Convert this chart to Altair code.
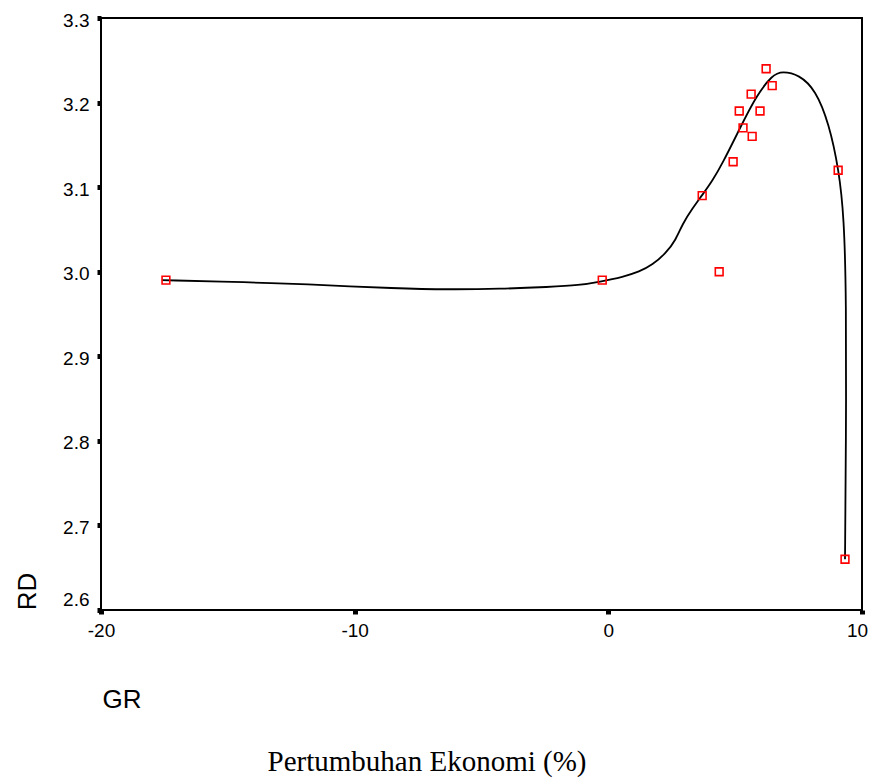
import altair as alt
import pandas as pd

# Observed data points (GR = economic growth %, RD)
gr = [-17.44, -0.24, 3.70, 4.37, 4.92, 5.16, 5.31, 5.63, 5.67, 5.98, 6.22, 6.46, 9.06, 9.33]
rd = [2.99, 2.99, 3.09, 3.00, 3.13, 3.19, 3.17, 3.21, 3.16, 3.19, 3.24, 3.22, 3.12, 2.66]

# Fitted curve (in drawing order)
fit_gr = [-17.6, -14.13, -12.17, -8.23, -6.26, -4.29, -2.32, -1.14, -0.35, 0.6, 1.22, 1.74,
          2.27, 2.66, 2.93, 3.32, 3.71, 4.11, 4.50, 5.16, 5.81, 6.47, 6.86, 7.52, 8.17,
          8.70, 9.09, 9.29, 9.38, 9.37, 9.33]
fit_rd = [2.990, 2.9875, 2.9855, 2.980, 2.979, 2.9796, 2.982, 2.984, 2.988, 2.994, 3.000, 3.008,
          3.022, 3.0375, 3.057, 3.075, 3.091, 3.108, 3.128, 3.168, 3.207, 3.233, 3.237, 3.233, 3.215,
          3.175, 3.12, 3.065, 2.97, 2.80, 2.66]

x_ticks = [-20, -10, 0, 10]
y_ticks = [2.6, 2.7, 2.8, 2.9, 3.0, 3.1, 3.2, 3.3]

title_text = "Pertumbuhan Ekonomi (%)"

pts = pd.DataFrame({"GR": gr, "RD": rd})
fit = pd.DataFrame({"GR": fit_gr, "RD": fit_rd, "ord": list(range(len(fit_gr)))})
ttl = pd.DataFrame({"t": [title_text]})

SANS = "Liberation Sans"

xscale = alt.Scale(domain=[-20, 10], nice=False, zero=False)
yscale = alt.Scale(domain=[2.6, 3.3], nice=False, zero=False)

xaxis = alt.Axis(
    values=x_ticks, labelExpr="'' + datum.value", grid=False, domain=False,
    tickSize=4, tickWidth=5, tickColor="black", labelFlush=False,
    labelOffset={"condition": {"test": "datum.value > 9", "value": -5}, "value": 0},
    labelFont=SANS, labelFontSize=19, labelColor="black", labelPadding=7,
    title="GR", titleFont=SANS, titleFontSize=26, titleFontWeight="normal",
    titleColor="black", titleX=1, titleY=97, titleAlign="left", titleBaseline="alphabetic",
)
yaxis = alt.Axis(
    values=y_ticks, format=".1f", grid=False, domain=False,
    tickSize=4, tickWidth=5, tickColor="black", labelFlush=False,
    labelFont=SANS, labelFontSize=19, labelColor="black", labelPadding=8,
    labelBaseline="middle",
    labelOffset={"condition": {"test": "datum.value < 2.65", "value": -11}, "value": 2},
    title="RD", titleFont=SANS, titleFontSize=26, titleFontWeight="normal",
    titleColor="black", titleX=-66, titleY=573, titleAlign="center",
    titleBaseline="alphabetic", titleAngle=270,
)

line = alt.Chart(fit).mark_line(color="black", strokeWidth=1.8, interpolate="basis").encode(
    x=alt.X("GR:Q", scale=xscale, axis=xaxis),
    y=alt.Y("RD:Q", scale=yscale, axis=yaxis),
    order="ord:Q",
)

points = alt.Chart(pts).mark_point(
    shape="square", filled=False, size=60, color="#ff0000", strokeWidth=1.6, opacity=1
).encode(
    x=alt.X("GR:Q", scale=xscale),
    y=alt.Y("RD:Q", scale=yscale),
)

title = alt.Chart(ttl).mark_text(
    font="Liberation Serif", fontSize=29, align="center", baseline="alphabetic", color="black"
).encode(
    x=alt.value(326), y=alt.value(753), text="t:N"
)

chart = alt.layer(line, points, title).properties(
    width=761, height=592,
    autosize=alt.AutoSizeParams(type="none"),
    padding={"left": 93, "top": 10, "right": 6, "bottom": 172},
    background="white",
).configure_view(stroke="black", strokeWidth=2)

chart.save("out.html", embed_options={"renderer": "svg", "actions": False})
